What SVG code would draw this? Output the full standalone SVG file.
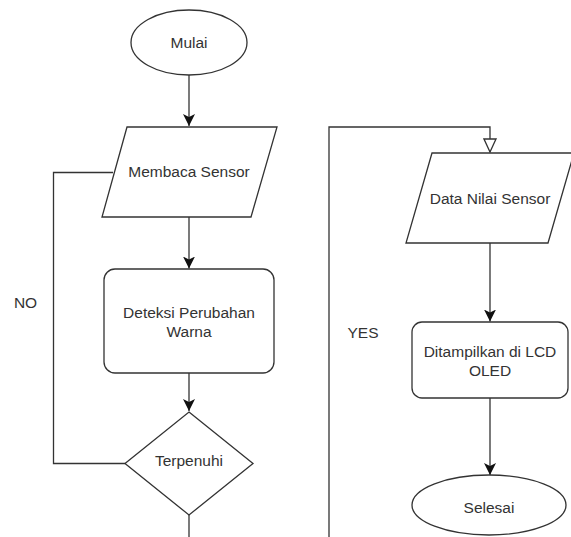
<svg xmlns="http://www.w3.org/2000/svg" width="571" height="537" viewBox="0 0 571 537">
<defs>
<style>
.s{fill:#fff;stroke:#333;stroke-width:1.3}
.c{fill:none;stroke:#333;stroke-width:1.3}
.t{font-family:"Liberation Sans",Arial,sans-serif;font-size:15.5px;fill:#333;text-anchor:middle}
</style>
<marker id="a" markerUnits="userSpaceOnUse" markerWidth="12" markerHeight="12" refX="10" refY="5" orient="auto" viewBox="0 0 10 10"><path d="M0,0 L10,5 L0,10 L2.5,5 z" fill="#111"/></marker>
<marker id="h" markerUnits="userSpaceOnUse" markerWidth="15" markerHeight="14" refX="13" refY="6" orient="auto" viewBox="-1 -1 15 14"><path d="M0,0 L13,6 L0,12 z" fill="#fff" stroke="#333" stroke-width="1.3"/></marker>
</defs>
<rect width="571" height="537" fill="#fff"/>
<g id="connectors">
<path class="c" d="M189,75 V126" marker-end="url(#a)"/>
<path class="c" d="M189,217 V268.5" marker-end="url(#a)"/>
<path class="c" d="M189,373 V411" marker-end="url(#a)"/>
<path class="c" d="M189,515 V537"/>
<path class="c" d="M113,172.5 H53.5 V463.5 H125"/>
<path class="c" d="M329,537 V127 H490 V152" marker-end="url(#h)"/>
<path class="c" d="M490,243 V321.5" marker-end="url(#a)"/>
<path class="c" d="M490,398 V475" marker-end="url(#a)"/>
</g>
<g id="mulai"><ellipse class="s" cx="189" cy="42.5" rx="58" ry="32.5"/><text class="t" x="189" y="48.3">Mulai</text></g>
<g id="membaca"><path class="s" d="M127,127 H277 L251,217 H102 Z"/><text class="t" x="189" y="177.3">Membaca Sensor</text></g>
<g id="deteksi"><rect class="s" x="104" y="269" width="170" height="104" rx="11"/><text class="t" x="189" y="318.3">Deteksi Perubahan</text><text class="t" x="189" y="336.7">Warna</text></g>
<g id="terpenuhi"><path class="s" d="M189,412 L253,463.5 L189,515 L125,463.5 Z"/><text class="t" x="189" y="466">Terpenuhi</text></g>
<g id="data"><path class="s" d="M432,153 H574 L548,243 H406 Z"/><text class="t" x="490" y="204">Data Nilai Sensor</text></g>
<g id="tampil"><rect class="s" x="412" y="322" width="156" height="76" rx="10"/><text class="t" x="490" y="357.3">Ditampilkan di LCD</text><text class="t" x="490" y="375.7">OLED</text></g>
<g id="selesai"><ellipse class="s" cx="489" cy="505" rx="77" ry="30"/><text class="t" x="489" y="513.3">Selesai</text></g>
<g id="labels"><text class="t" x="25.5" y="308.3">NO</text><text class="t" x="363" y="338.3">YES</text></g>
</svg>
